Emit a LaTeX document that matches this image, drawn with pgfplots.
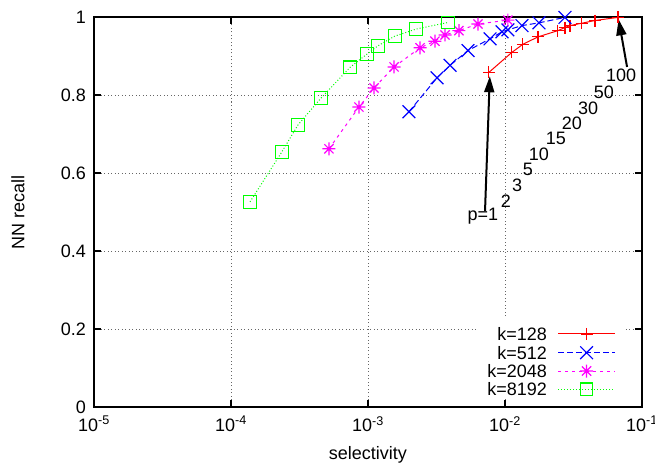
\documentclass[border=0pt]{standalone}
\usepackage{fontspec}
\setmainfont{Liberation Sans}
\usepackage{pgfplots}
\pgfplotsset{compat=1.18}
\usetikzlibrary{arrows.meta}
\pgfdeclareplotmark{gpstar}{%
  \pgfpathmoveto{\pgfqpoint{-\pgfplotmarksize}{0pt}}\pgfpathlineto{\pgfqpoint{\pgfplotmarksize}{0pt}}%
  \pgfpathmoveto{\pgfqpoint{0pt}{-\pgfplotmarksize}}\pgfpathlineto{\pgfqpoint{0pt}{\pgfplotmarksize}}%
  \pgfpathmoveto{\pgfqpoint{-.70710678\pgfplotmarksize}{-.70710678\pgfplotmarksize}}\pgfpathlineto{\pgfqpoint{.70710678\pgfplotmarksize}{.70710678\pgfplotmarksize}}%
  \pgfpathmoveto{\pgfqpoint{-.70710678\pgfplotmarksize}{.70710678\pgfplotmarksize}}\pgfpathlineto{\pgfqpoint{.70710678\pgfplotmarksize}{-.70710678\pgfplotmarksize}}%
  \pgfusepathqstroke}
\definecolor{gpred}{rgb}{1,0,0}
\definecolor{gpblue}{rgb}{0,0,1}
\definecolor{gpmag}{rgb}{1,0,1}
\definecolor{gpgreen}{rgb}{0,1,0}
\definecolor{gpgrid}{rgb}{0.4,0.4,0.4}
\pgfplotsset{
  redline/.style={draw=gpred, line width=1pt, solid, mark=none},
  blueline/.style={draw=gpblue, line width=1pt, dash pattern=on 6pt off 3pt, mark=none},
  magline/.style={draw=gpmag, line width=1pt, dash pattern=on 3pt off 4pt, mark=none},
  greenline/.style={draw=gpgreen, line width=1pt, dash pattern=on 1pt off 2pt, mark=none},
  redmark/.style={only marks, mark=+, mark size=6pt, mark options={draw=gpred, solid, line width=1.2pt}},
  bluemark/.style={only marks, mark=x, mark size=9pt, mark options={draw=gpblue, solid, line width=1.2pt}},
  magmark/.style={only marks, mark=gpstar, mark size=6.5pt, mark options={draw=gpmag, solid, line width=1.2pt}},
  greenmark/.style={only marks, mark=square, mark size=6.3pt, mark options={draw=gpgreen, fill=none, solid, line width=1.2pt}},
}
% data (selectivity, recall), p = 1,2,3,5,10,15,20,30,50,100
\pgfplotstableread{
x y
7.63e-3 0.858
1.12e-2 0.909
1.35e-2 0.930
1.74e-2 0.949
2.43e-2 0.965
2.74e-2 0.973
2.98e-2 0.978
3.63e-2 0.984
4.54e-2 0.991
6.68e-2 0.999
}\kA
\pgfplotstableread{
x y
1.99e-3 0.757
3.19e-3 0.844
3.97e-3 0.876
5.37e-3 0.914
7.78e-3 0.944
9.51e-3 0.962
1.05e-2 0.967
1.33e-2 0.978
1.77e-2 0.985
2.74e-2 0.999
}\kB
\pgfplotstableread{
x y
5.19e-4 0.662
8.59e-4 0.769
1.107e-3 0.818
1.55e-3 0.872
2.40e-3 0.921
3.08e-3 0.938
3.65e-3 0.954
4.61e-3 0.965
6.35e-3 0.982
1.05e-2 0.992
}\kC
\pgfplotstableread{
x y
1.377e-4 0.526
2.35e-4 0.654
3.08e-4 0.723
4.54e-4 0.792
7.40e-4 0.871
9.84e-4 0.905
1.18e-3 0.926
1.57e-3 0.951
2.24e-3 0.969
3.84e-3 0.986
}\kD
\begin{document}
\fontsize{18}{21}\selectfont
\begin{tikzpicture}
\useasboundingbox (-94pt,-57pt) rectangle (561pt,407pt);
\begin{axis}[
  at={(0,0)}, anchor=south west,
  scale only axis, width=548pt, height=390pt,
  xmode=log, log basis x=10,
  xmin=1e-5, xmax=1e-1, ymin=0, ymax=1,
  xtick={1e-5,1e-4,1e-3,1e-2,1e-1},
  xticklabels={10\textsuperscript{-5},10\textsuperscript{-4},10\textsuperscript{-3},10\textsuperscript{-2},10\textsuperscript{-1}},
  xminorticks=false,
  ytick={0,0.2,0.4,0.6,0.8,1},
  yticklabels={0,0.2,0.4,0.6,0.8,1},
  tick align=inside, major tick length=7pt,
  tick style={draw=black, line width=1.5pt},
  axis line style={draw=black, line width=2pt},
  grid=major,
  major grid style={draw=gpgrid, line width=0.8pt, dash pattern=on 1pt off 2.5pt},
  xticklabel style={yshift=-3pt},
  yticklabel style={xshift=-2pt},
  every axis x label/.style={at={(rel axis cs:0.5,0)}, yshift=-48pt, anchor=center},
  every axis y label/.style={at={(rel axis cs:0,0.5)}, xshift=-76pt, rotate=90, anchor=center},
  xlabel={selectivity}, ylabel={NN recall},
  clip=false,
]
\addplot[redline] table {\kA};
\addplot[blueline] table {\kB};
\addplot[magline] table {\kC};
\addplot[greenline] table {\kD};
\addplot[redmark] table {\kA};
\addplot[bluemark] table {\kB};
\addplot[magmark] table {\kC};
\addplot[greenmark] table {\kD};
% legend (drawn through the axis)
\fill[white] (axis cs:6.35e-3,0.0205) rectangle (axis cs:7.52e-2,0.2308);
\addplot[redline] coordinates {(2.438e-2,0.1872) (6.35e-2,0.1872)};
\addplot[blueline] coordinates {(2.438e-2,0.1392) (6.35e-2,0.1392)};
\addplot[magline] coordinates {(2.438e-2,0.0923) (6.35e-2,0.0923)};
\addplot[greenline] coordinates {(2.438e-2,0.0454) (6.35e-2,0.0454)};
\addplot[redmark] coordinates {(3.94e-2,0.1872)};
\addplot[bluemark] coordinates {(3.94e-2,0.1392)};
\addplot[magmark] coordinates {(3.94e-2,0.0923)};
\addplot[greenmark] coordinates {(3.94e-2,0.0454)};
\node[anchor=east, inner sep=0pt] at (axis cs:2.03e-2,0.1872) {k=128};
\node[anchor=east, inner sep=0pt] at (axis cs:2.03e-2,0.1392) {k=512};
\node[anchor=east, inner sep=0pt] at (axis cs:2.03e-2,0.0923) {k=2048};
\node[anchor=east, inner sep=0pt] at (axis cs:2.03e-2,0.0454) {k=8192};
% annotations
\draw[draw=black, fill=black, line width=2pt, -{Triangle[length=16pt,width=10pt]}] (axis cs:7.15e-3,0.503) -- (axis cs:7.75e-3,0.848);
\draw[draw=black, fill=black, line width=2pt, -{Triangle[length=16pt,width=10pt]}] (axis cs:7.78e-2,0.872) -- (axis cs:6.75e-2,0.994);
\node at (axis cs:6.90e-3,0.490) {p=1};
\node at (axis cs:1.016e-2,0.528) {2};
\node at (axis cs:1.225e-2,0.569) {3};
\node at (axis cs:1.47e-2,0.608) {5};
\node at (axis cs:1.77e-2,0.649) {10};
\node at (axis cs:2.35e-2,0.690) {15};
\node at (axis cs:3.08e-2,0.728) {20};
\node at (axis cs:4.04e-2,0.767) {30};
\node at (axis cs:5.28e-2,0.808) {50};
\node at (axis cs:7.03e-2,0.851) {100};
\end{axis}
\end{tikzpicture}
\end{document}
